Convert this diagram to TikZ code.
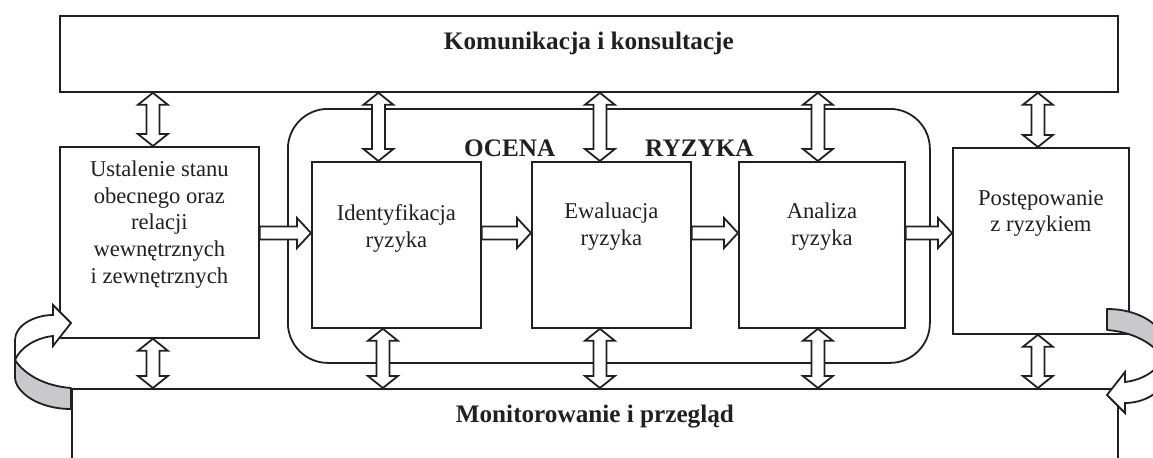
\documentclass[tikz,border=0pt]{standalone}
\usepackage{fontspec}
\setmainfont{Liberation Serif}
\usepackage{tikz}
\usetikzlibrary{positioning,calc}
\definecolor{ink}{RGB}{35,31,32}
\definecolor{backside}{RGB}{200,201,204}

\tikzset{
  curl/.pic={
    % grey back side of the ribbon, then the white front with its head
    \filldraw[fill=backside,draw=ink,line width=.9pt,line join=round]
      (-56,28) -- (-56,11) .. controls (-56,-4) and (-33,-21) .. (0,-21) -- (0,0)
      .. controls (-26,2) and (-46,13) .. (-56,28) -- cycle;
    \filldraw[fill=white,draw=ink,line width=.9pt,line join=miter]
      (-56,28) -- (-56,48) .. controls (-56,63) and (-36,73) .. (-18,73)
      -- (-18,83) -- (0,65) -- (-18,42) -- (-18,52)
      .. controls (-36,50) and (-51,40) .. (-56,28) -- cycle;
  }
}

\begin{document}
\begin{tikzpicture}[
  x=.5pt,y=.5pt,
  stage/.style={rectangle,draw=ink,line width=.9pt,fill=white,anchor=north west,inner sep=0pt},
  caption/.style={font=\fontsize{11.3}{13.3}\selectfont,text=ink,align=center,inner sep=0pt},
  heading/.style={font=\fontsize{12.6}{15}\selectfont\bfseries,text=ink,inner sep=0pt},
  blockarrow/.style={draw=ink,fill=white,line width=.9pt,
    to path={let \p1=(\tikztostart),\p2=(\tikztotarget) in
      (\x1,\y1+3.25pt) -- (\x2-7pt,\y1+3.25pt) -- (\x2-7pt,\y1+7.5pt) -- (\x2,\y1)
      -- (\x2-7pt,\y1-7.5pt) -- (\x2-7pt,\y1-3.25pt) -- (\x1,\y1-3.25pt) -- cycle}},
  dblarrow/.style={draw=ink,fill=white,line width=.9pt,
    to path={let \p1=(\tikztostart),\p2=(\tikztotarget),\n1={sign(\y2-\y1)} in
      (\x1,\y1) -- (\x1+7.5pt,\y1+\n1*6pt) -- (\x1+3.25pt,\y1+\n1*6pt)
      -- (\x1+3.25pt,\y2-\n1*6pt) -- (\x1+7.5pt,\y2-\n1*6pt) -- (\x1,\y2)
      -- (\x1-7.5pt,\y2-\n1*6pt) -- (\x1-3.25pt,\y2-\n1*6pt)
      -- (\x1-3.25pt,\y1+\n1*6pt) -- (\x1-7.5pt,\y1+\n1*6pt) -- cycle}}
]
\useasboundingbox (0,0) rectangle (1153,457);
\clip (0,0) rectangle (1153,457);

% frame boxes
\node[stage,minimum width=529pt,minimum height=38pt] (komun) at (59,442) {};
\node[stage,minimum width=523pt,minimum height=50pt] (monit) at (71,69) {};
\node[stage,rounded corners=20pt,minimum width=321pt,minimum height=127pt] (ocena) at (287,349) {};

% process boxes
\node[stage,minimum width=99.5pt,minimum height=95.5pt] (ustal) at (59,311) {};
\node[stage,minimum width=84.5pt,minimum height=83pt] (ident) at (311,296) {};
\node[stage,minimum width=79.5pt,minimum height=83pt] (ewal) at (531,296) {};
\node[stage,minimum width=83pt,minimum height=83pt] (anal) at (738,296) {};
\node[stage,minimum width=88pt,minimum height=93pt] (post) at (952,310) {};

% texts
\node[heading,below=8.5pt of komun.north] (komunT) {Komunikacja i konsultacje};
\node[heading,below=8.5pt of monit.north] (monitT) {Monitorowanie i przegląd};
\node[heading,below=15.7pt of ocena.north] (ocenaT) {OCENA\hspace{45pt}RYZYKA};
\node[caption,below=7.3pt of ustal.north] (ustalT) {Ustalenie stanu\\obecnego oraz\\relacji\\wewnętrznych\\i zewnętrznych};
\node[caption,below=21.8pt of ident.north] (identT) {Identyfikacja\\ryzyka};
\node[caption,below=20.8pt of ewal.north] (ewalT) {Ewaluacja\\ryzyka};
\node[caption,below=20.8pt of anal.north] (analT) {Analiza\\ryzyka};
\node[caption,below=21.5pt of post.north] (postT) {Postępowanie\\z ryzykiem};

% flow arrows
\coordinate (mid) at (0,224);
\draw[blockarrow] (ustal.east |- mid) to (ident.west);
\draw[blockarrow] (ident.east |- mid) to (ewal.west);
\draw[blockarrow] (ewal.east |- mid) to (anal.west);
\draw[blockarrow] (anal.east |- mid) to (post.west);

% links to Komunikacja
\draw[dblarrow] ([xshift=-3.25pt]ustal.north) to (komun.south);
\draw[dblarrow] ([xshift=-9pt]ident.north) to (komun.south);
\draw[dblarrow] ([xshift=-5.75pt]ewal.north) to (komun.south);
\draw[dblarrow] ([xshift=-2pt]anal.north) to (komun.south);
\draw[dblarrow] ([xshift=-1.5pt]post.north) to (komun.south);

% links to Monitorowanie
\draw[dblarrow] ([xshift=-3.25pt]ustal.south) to (monit.north);
\draw[dblarrow] ([xshift=-6.75pt]ident.south) to (monit.north);
\draw[dblarrow] ([xshift=-5.75pt]ewal.south) to (monit.north);
\draw[dblarrow] ([xshift=-2pt]anal.south) to (monit.north);
\draw[dblarrow] ([xshift=-1.5pt]post.south) to (monit.north);

% feedback loops
\pic at (71,69) {curl};
\pic[rotate=180] at (1107,127) {curl};
\end{tikzpicture}
\end{document}
